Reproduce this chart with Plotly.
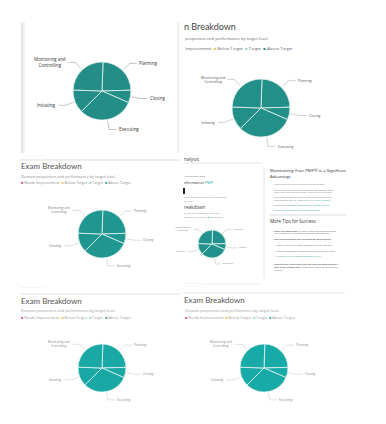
import math
import plotly.graph_objects as go

# page has an 8px body margin: draw a figure that exactly fills the rest of the window
OFF = 8
W, H = 386 - OFF, 424 - OFF

# ---- data ----
domains = ["Planning", "Closing", "Executing", "Initiating", "Monitoring and Controlling"]
shares = [24, 7, 31, 13, 25]
label_text = ["Planning", "Closing", "Executing", "Initiating", "Monitoring and<br>Controlling"]
legend_levels = ["Needs Improvement", "Below Target", "Target", "Above Target"]
legend_colors = ["#c9476f", "#efc236", "#86d3c7", "#1f9990"]

ROT = 2

fig = go.Figure()
shapes = []
annos = []


def X(px):
    return (px - OFF) / W


def Y(py):
    return 1 - (py - OFF) / H


def text(px, py, s, size, color="#444", anchor="left", family="Open Sans"):
    annos.append(dict(x=X(px), y=Y(py), xref="paper", yref="paper", text=s, showarrow=False,
                      xanchor=anchor, yanchor="middle", align="left", borderpad=0,
                      font=dict(size=size, color=color, family=family)))


def hline(x0, x1, py, color="#dddddd", w=1):
    shapes.append(dict(type="line", xref="paper", yref="paper", x0=X(x0), x1=X(x1), y0=Y(py), y1=Y(py),
                       line=dict(color=color, width=w)))


def vline(px, y0, y1, color="#dddddd", w=1):
    shapes.append(dict(type="line", xref="paper", yref="paper", x0=X(px), x1=X(px), y0=Y(y0), y1=Y(y1),
                       line=dict(color=color, width=w)))


def pie(cx, cy, r, color, fs, fcolor, lcolor, elbow=1.35, arm=7, gap=1.5, sep=0.8):
    fig.add_trace(go.Pie(labels=domains, values=shares, sort=False, direction="clockwise",
                         rotation=ROT, textinfo="none", hoverinfo="skip", showlegend=False,
                         marker=dict(colors=[color] * len(shares), line=dict(color="#e6f4f2", width=sep)),
                         domain=dict(x=[X(cx - r), X(cx + r)], y=[Y(cy + r), Y(cy - r)])))
    total = sum(shares)
    start = ROT
    for v, lab in zip(shares, label_text):
        ang = start + v / total * 360 / 2
        start += v / total * 360
        s, c = math.sin(math.radians(ang)), math.cos(math.radians(ang))
        x0, y0 = cx + r * 1.05 * s, cy - r * 1.05 * c
        x1, y1 = cx + r * elbow * s, cy - r * elbow * c
        side = 1 if s >= 0 else -1
        x2 = x1 + side * arm
        shapes.append(dict(type="path", xref="paper", yref="paper",
                           path=f"M {X(x0)},{Y(y0)} L {X(x1)},{Y(y1)} L {X(x2)},{Y(y1)}",
                           line=dict(color=lcolor, width=0.7)))
        annos.append(dict(x=X(x2 + side * gap), y=Y(y1), xref="paper", yref="paper", text=lab,
                          showarrow=False, xanchor="left" if side > 0 else "right", yanchor="middle",
                          align="center", borderpad=0,
                          font=dict(size=fs, color=fcolor, family="Open Sans")))


def legend_html(levels, colors):
    return "  ".join(f'<span style="color:{c}">■</span> {l}' for l, c in zip(levels, colors))


# ---- panel A (top-left card) ----
vline(22, 22, 153, "#cfcfcf")
vline(24, 22, 153, "#e4e4e4")
vline(178, 22, 153, "#dedede")
hline(20, 180, 160, "#dddddd")
text(24, 156, "···· ········ ········", 3, "#bbbbbb")
pie(102, 91, 29, "#238d87", 4.4, "#333333", "#aaaaaa")

# ---- panel B (top-right) ----
text(183, 27, "n Breakdown", 9, "#444444", family="Lato")
text(184, 39, "proportion and performance by target level", 4.1, "#666666")
text(184, 48, "Improvement  " + legend_html(legend_levels[1:], legend_colors[1:]), 4.2, "#666666")
pie(261, 108, 29, "#228f89", 3.4, "#555555", "#bbbbbb")

# ---- panel C (middle-left) ----
text(20, 166, "Exam Breakdown", 8, "#555555", family="Lato")
text(20, 176, "Domain proportion and performance by target level", 3.9, "#888888")
text(20, 183, legend_html(legend_levels, legend_colors), 3.7, "#888888")
pie(102, 234, 24, "#1f968f", 3.0, "#777777", "#cccccc")

# ---- panel D (middle-right document) ----
text(183, 159, "nalysis", 4.8, "#444444")
hline(183, 262, 163, "#e6e6e6")
text(183, 176, "18 December 2020", 2.4, "#777777")
text(183, 183, 'nformation <span style="color:#2a9d9a">PMP</span>', 3.8, "#333333")
shapes.append(dict(type="rect", xref="paper", yref="paper", x0=X(183), x1=X(185), y0=Y(194), y1=Y(188),
                   fillcolor="#222222", line=dict(width=0)))
text(183, 198, "ocus: Knowledge and Skills across Domain", 2.2, "#888888")
text(183, 201, "ad Areas", 2.2, "#888888")
text(183, 207, "reakdown", 4.6, "#444444")
text(183, 213, "ion and performance by target level", 2.2, "#888888")
text(183, 217, "Below Target " + legend_html(legend_levels[2:], legend_colors[2:]), 2.2, "#888888")
pie(212, 244, 14, "#21918b", 2.2, "#777777", "#cccccc", elbow=1.45, arm=5)
vline(264, 167, 278, "#e2e2e2")
hline(183, 262, 284, "#eeeeee")

text(269, 170, "Maintaining Your PMP® is a Significan", 4.3, "#333333")
text(269, 175.5, "Advantage", 4.3, "#333333")
bul = [
    (184, "•  Your credential is valid through an unlimited time"),
    (190, "•  To stay certified, you need to complete professional develo"),
    (192, "    over three-year cycle and report them to the PMI system"),
    (198, "•  Learn how to maintain your certification and continuing c"),
    (200, "    requirements with us, as well as in PMI <span style='color:#2a9d9a'>Talent Triangle®</span>"),
    (205, "•  Check out <span style='color:#2a9d9a'>professional development units for your PD</span>"),
    (211, "•  <span style='color:#2a9d9a'>View our certification audit rules and options</span>"),
]
for py, s in bul:
    text(271, py, s, 2.2, "#777777")
hline(269, 346, 215, "#dddddd")
text(269, 221, "More Tips for Success", 4.5, "#333333")
bul2 = [
    (231, "•  <b>Share the good news!</b> Let your friends and colleagues know"),
    (233, "    you are now a certified project manager and stand out"),
    (239, "•  <b>Start thinking about your professional development</b>"),
    (245, "     •  Identify your career goals, focus and training that suits"),
    (251, "     •  Select professional development activities that will impro"),
    (256, "     •  <span style='color:#2a9d9a'>Explore all the categories available in PDUs</span>"),
    (264, "•  <b>Connect your career with new PMI learning opportunities</b> u"),
    (267, "    <b>with a PMI membership</b>: Access over 1,000 free tools and res"),
    (270, "    to learn"),
]
for py, s in bul2:
    text(271, py, s, 2.2, "#666666")

# ---- panel E (bottom-left) ----
text(20, 288, "···· ·········· ········ ····", 3, "#cccccc")
hline(20, 180, 294, "#e4e4e4")
text(20, 301, "Exam Breakdown", 8, "#555555", family="Lato")
text(20, 310, "Domain proportion and performance by target level", 3.9, "#999999")
text(20, 317, legend_html(legend_levels, legend_colors), 3.7, "#999999")
pie(102, 368, 24, "#19a8a4", 3.0, "#888888", "#d4d4d4")

# ---- panel F (bottom-right) ----
text(183, 287, "···· ·········· ········ ····", 3, "#cccccc")
hline(183, 345, 293, "#e4e4e4")
text(183, 300, "Exam Breakdown", 8, "#555555", family="Lato")
text(184, 310, "Domain proportion and performance by target level", 3.9, "#999999")
text(184, 317, legend_html(legend_levels, legend_colors), 3.7, "#999999")
pie(264, 368, 24, "#18aaa6", 3.0, "#888888", "#d4d4d4")

fig.update_layout(width=W, height=H, margin=dict(l=0, r=0, t=0, b=0),
                  paper_bgcolor="white", plot_bgcolor="white",
                  shapes=shapes, annotations=annos, showlegend=False)
fig.write_html("out.html")
